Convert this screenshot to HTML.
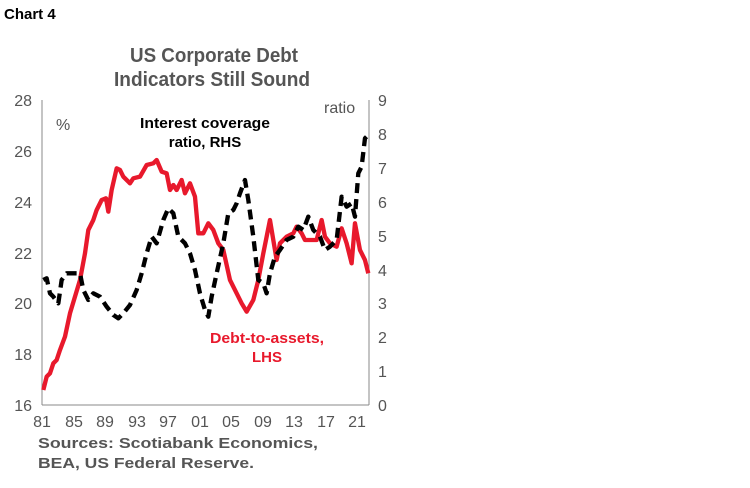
<!DOCTYPE html>
<html><head><meta charset="utf-8"><style>
body{margin:0;background:#fff;width:750px;height:483px;overflow:hidden;font-family:"Liberation Sans",sans-serif}
</style></head><body>
<svg width="750" height="483" xmlns="http://www.w3.org/2000/svg" font-family="Liberation Sans, sans-serif">
<text x="4" y="19" font-size="15" font-weight="bold">Chart 4</text>
<text x="130" y="62" font-size="20" font-weight="bold" fill="#555" textLength="168" lengthAdjust="spacingAndGlyphs">US Corporate Debt</text>
<text x="114" y="86" font-size="20" font-weight="bold" fill="#555" textLength="196" lengthAdjust="spacingAndGlyphs">Indicators Still Sound</text>
<g stroke="#888" stroke-width="1" fill="none">
<line x1="42" y1="100" x2="42" y2="405"/>
<line x1="369" y1="100" x2="369" y2="405"/>
<line x1="42" y1="405" x2="369" y2="405"/>
</g>
<g fill="#555" font-size="16">
<g text-anchor="end">
<text x="32" y="106">28</text><text x="32" y="157">26</text><text x="32" y="208">24</text><text x="32" y="259">22</text><text x="32" y="309">20</text><text x="32" y="360">18</text><text x="32" y="411">16</text>
</g>
<g text-anchor="start">
<text x="378" y="106">9</text><text x="378" y="140">8</text><text x="378" y="174">7</text><text x="378" y="208">6</text><text x="378" y="242">5</text><text x="378" y="276">4</text><text x="378" y="309">3</text><text x="378" y="343">2</text><text x="378" y="377">1</text><text x="378" y="411">0</text>
</g>
<g text-anchor="middle">
<text x="42" y="427">81</text><text x="74" y="427">85</text><text x="105" y="427">89</text><text x="137" y="427">93</text><text x="168" y="427">97</text><text x="200" y="427">01</text><text x="231" y="427">05</text><text x="263" y="427">09</text><text x="294" y="427">13</text><text x="326" y="427">17</text><text x="357" y="427">21</text>
</g>
<text x="56" y="130">%</text>
<text x="324" y="113">ratio</text>
</g>
<text x="140" y="128" font-size="15" font-weight="bold" textLength="130" lengthAdjust="spacingAndGlyphs">Interest coverage</text>
<text x="205" y="147" font-size="15" font-weight="bold" text-anchor="middle">ratio, RHS</text>
<text x="210" y="343" font-size="15" font-weight="bold" fill="#e8192c" textLength="114" lengthAdjust="spacingAndGlyphs">Debt-to-assets,</text>
<text x="267" y="362" font-size="15" font-weight="bold" fill="#e8192c" text-anchor="middle">LHS</text>
<g transform="translate(0,80) scale(0.3333)">
<polyline fill="none" stroke="#e8192c" stroke-width="13" stroke-linejoin="round" points="130,930 140,890 150,880 160,850 170,840 180,810 195,770 210,700 225,650 240,600 255,520 265,450 280,420 290,390 305,360 318,355 325,395 335,330 350,265 360,270 370,290 390,310 400,295 420,290 440,255 460,250 470,240 485,275 500,280 510,330 520,315 530,330 545,300 555,340 570,310 585,350 595,460 610,460 625,430 640,450 655,490 670,510 690,600 710,640 725,670 740,695 760,660 775,600 790,520 800,470 810,420 820,480 830,540 840,490 860,470 880,460 890,440 905,460 915,480 930,480 950,480 965,420 975,470 990,490 1010,500 1025,445 1040,490 1055,550 1065,430 1080,510 1095,540 1105,580"/>
<polyline fill="none" stroke="#000" stroke-width="13" stroke-dasharray="30,18" stroke-linejoin="round" points="130,600 140,595 150,640 160,650 175,670 185,600 200,580 215,580 240,580 250,630 265,660 280,640 300,650 320,680 340,705 355,715 370,700 390,675 410,630 425,580 440,520 455,470 470,490 490,420 505,385 520,400 535,470 555,490 570,520 585,570 600,640 615,690 625,710 635,650 650,580 670,490 685,400 700,390 710,370 720,340 735,300 745,360 760,470 775,600 790,610 800,640 810,580 825,530 840,510 860,480 880,470 895,440 910,450 925,410 940,450 960,470 975,510 990,500 1010,480 1025,350 1040,380 1055,370 1065,410 1075,280 1085,260 1095,175 1105,165"/>
</g>
<text x="38" y="448" font-size="15" font-weight="bold" fill="#555" textLength="280" lengthAdjust="spacingAndGlyphs">Sources: Scotiabank Economics,</text>
<text x="38" y="468" font-size="15" font-weight="bold" fill="#555" textLength="216" lengthAdjust="spacingAndGlyphs">BEA, US Federal Reserve.</text>
</svg>
</body></html>
